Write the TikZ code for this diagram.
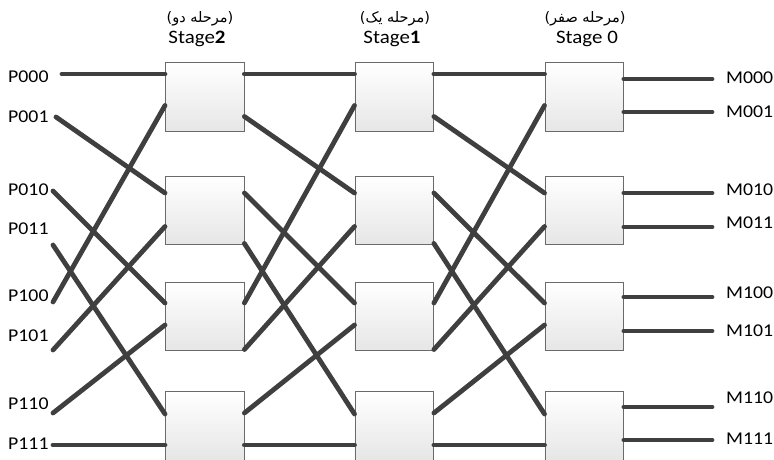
\documentclass[tikz,border=0pt]{standalone}
\usepackage{fontspec}
\setmainfont{Carlito}[FakeStretch=1.1]
\newfontfamily\fafont[Script=Arabic]{DejaVu Sans}
\newfontfamily\parfont{DejaVu Sans}
\TeXXeTstate=1
\definecolor{wirec}{HTML}{3F3F3F}
\definecolor{boxborder}{HTML}{6A6A6A}
\definecolor{boxbot}{HTML}{E6E6E6}
\newcommand{\faparen}[1]{{\parfont(}{\fafont\beginR #1\endR}{\parfont)}}
\begin{document}
\begin{tikzpicture}[x=1pt,y=-1pt,
  sw/.style={draw=boxborder, line width=0.9pt, top color=white, bottom color=boxbot,
    minimum width=78.5pt, minimum height=68.5pt, anchor=north west, inner sep=0pt},
  wire/.style={draw=wirec, line width=4.8pt, line cap=round},
  lab/.style={font=\fontsize{18}{20}\selectfont, inner sep=0pt, anchor=west},
  stagelab/.style={font=\fontsize{19}{21}\selectfont, inner sep=0pt},
  falab/.style={font=\fontsize{14.5}{16}\selectfont, inner sep=0pt},
  ]
\useasboundingbox (0,0) rectangle (774,460);

% switch boxes
\foreach \s/\x in {A/165,B/354.5,C/544.5}{
  \node[sw] (\s1) at (\x,62.5) {};
  \node[sw] (\s2) at (\x,175.5) {};
  \node[sw] (\s3) at (\x,281.5) {};
  \node[sw] (\s4) at (\x,391) {};
}

% stage titles
\node[falab] (fa2) at (200,19) {\faparen{مرحله دو}};
\node[falab] (fa1) at (395,19) {\faparen{مرحله یک}};
\node[falab] (fa0) at (585,19) {\faparen{مرحله صفر}};
\node[stagelab] (st2) at (197,39) {Stage\textbf{2}};
\node[stagelab] (st1) at (392,39) {Stage\textbf{1}};
\node[stagelab] (st0) at (587,39) {Stage 0};

% input labels
\node[lab] (P000) at (8,77) {P000};
\node[lab] (P001) at (8,117) {P001};
\node[lab] (P010) at (8,190) {P010};
\node[lab] (P011) at (8,229) {P011};
\node[lab] (P100) at (8,296) {P100};
\node[lab] (P101) at (8,336) {P101};
\node[lab] (P110) at (8,404) {P110};
\node[lab] (P111) at (8,444) {P111};

% output labels
\node[lab] (M000) at (726,78) {M000};
\node[lab] (M001) at (726,112) {M001};
\node[lab] (M010) at (726,190) {M010};
\node[lab] (M011) at (726,223) {M011};
\node[lab] (M100) at (726,293) {M100};
\node[lab] (M101) at (726,331) {M101};
\node[lab] (M110) at (726,398) {M110};
\node[lab] (M111) at (726,439) {M111};

% input wire ends
\coordinate (p0) at (62,74);
\coordinate (p1) at (56,117);
\coordinate (p2) at (53,191);
\coordinate (p3) at (53,245);
\coordinate (p4) at (53,302);
\coordinate (p5) at (53,350);
\coordinate (p6) at (53,413);
\coordinate (p7) at (53,445);

% output wire ends
\coordinate (m0) at (712,79);
\coordinate (m1) at (712,112);
\coordinate (m2) at (712,193);
\coordinate (m3) at (712,227);
\coordinate (m4) at (712,297);
\coordinate (m5) at (712,331);
\coordinate (m6) at (712,407);
\coordinate (m7) at (712,440);

% ports: left inputs (a,b) and right outputs (c,d)
\foreach \s in {A,B,C}{
  \coordinate (\s1a) at (\s1.west |- 0,74);
  \coordinate (\s1b) at (\s1.west |- 0,105.5);
  \coordinate (\s2a) at (\s2.west |- 0,193);
  \coordinate (\s2b) at (\s2.west |- 0,226.5);
  \coordinate (\s3a) at (\s3.west |- 0,303);
  \coordinate (\s3b) at (\s3.west |- 0,325);
  \coordinate (\s4a) at (\s4.west |- 0,414);
  \coordinate (\s4b) at (\s4.west |- 0,445);
}
\foreach \s in {A,B}{
  \coordinate (\s1c) at (\s1.east |- 0,74);
  \coordinate (\s1d) at (\s1.east |- 0,116.5);
  \coordinate (\s2c) at (\s2.east |- 0,193);
  \coordinate (\s2d) at (\s2.east |- 0,243.5);
  \coordinate (\s3c) at (\s3.east |- 0,303);
  \coordinate (\s3d) at (\s3.east |- 0,349.5);
  \coordinate (\s4c) at (\s4.east |- 0,413);
  \coordinate (\s4d) at (\s4.east |- 0,445);
}
\coordinate (C1c) at (C1.east |- 0,79);
\coordinate (C1d) at (C1.east |- 0,112);
\coordinate (C2c) at (C2.east |- 0,193);
\coordinate (C2d) at (C2.east |- 0,227);
\coordinate (C3c) at (C3.east |- 0,297);
\coordinate (C3d) at (C3.east |- 0,331);
\coordinate (C4c) at (C4.east |- 0,407);
\coordinate (C4d) at (C4.east |- 0,440);

% inputs to stage 2
\draw[wire] (p0) -- (A1a);
\draw[wire] (p1) -- (A2a);
\draw[wire] (p2) -- (A3a);
\draw[wire] (p3) -- (A4a);
\draw[wire] (p4) -- (A1b);
\draw[wire] (p5) -- (A2b);
\draw[wire] (p6) -- (A3b);
\draw[wire] (p7) -- (A4b);

% stage 2 -> stage 1 and stage 1 -> stage 0
\foreach \u/\v in {A/B,B/C}{
  \draw[wire] (\u1c) -- (\v1a);
  \draw[wire] (\u1d) -- (\v2a);
  \draw[wire] (\u3c) -- (\v1b);
  \draw[wire] (\u2c) -- (\v3a);
  \draw[wire] (\u2d) -- (\v4a);
  \draw[wire] (\u3d) -- (\v2b);
  \draw[wire] (\u4c) -- (\v3b);
  \draw[wire] (\u4d) -- (\v4b);
}

% outputs
\draw[wire] (C1c) -- (m0);
\draw[wire] (C1d) -- (m1);
\draw[wire] (C2c) -- (m2);
\draw[wire] (C2d) -- (m3);
\draw[wire] (C3c) -- (m4);
\draw[wire] (C3d) -- (m5);
\draw[wire] (C4c) -- (m6);
\draw[wire] (C4d) -- (m7);
\end{tikzpicture}
\end{document}
